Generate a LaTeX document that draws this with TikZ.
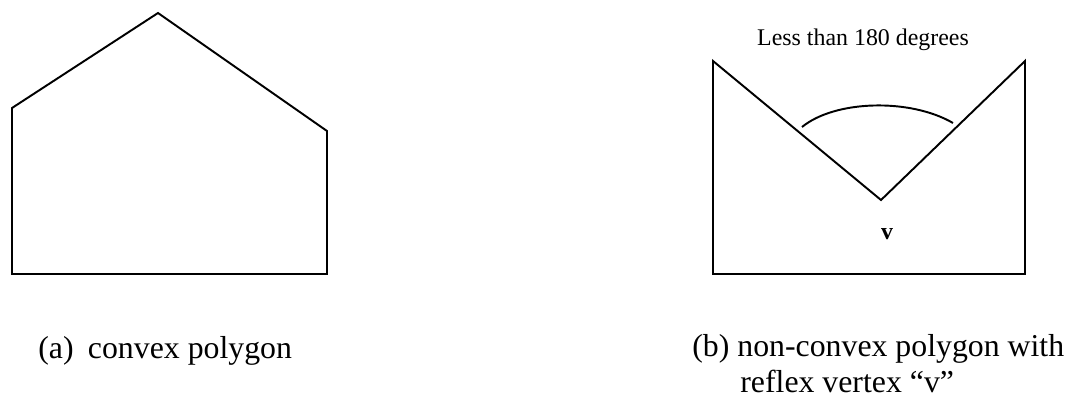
\documentclass[tikz,border=0pt]{standalone}
\usepackage{fontspec}
\setmainfont{Liberation Serif}
\begin{document}
\begin{tikzpicture}[x=0.02cm,y=-0.02cm,
  edge/.style={line width=1.1pt},
  caption/.style={font=\fontsize{18.1}{22}\selectfont,anchor=base west,inner sep=0pt},
  remark/.style={font=\fontsize{13.6}{16}\selectfont,anchor=base,inner sep=0pt}]
  % ===== Marco =====
  \useasboundingbox (0,0) rectangle (1070,399);

  % ===== (a) Polígono convexo =====
  \coordinate (a1) at (12,108);
  \coordinate (a2) at (158,13);
  \coordinate (a3) at (327,131);
  \coordinate (a4) at (327,274);
  \coordinate (a5) at (12,274);
  \draw[edge] (a1) -- (a2) -- (a3) -- (a4) -- (a5) -- cycle;

  % ===== (b) Polígono no convexo =====
  \coordinate (b1) at (713,61);
  \coordinate (v)  at (881,200);
  \coordinate (b3) at (1025,61);
  \coordinate (b4) at (1025,274);
  \coordinate (b5) at (713,274);
  \draw[edge] (b1) -- (v) -- (b3) -- (b4) -- (b5) -- cycle;

  % ===== Arco del ángulo =====
  \coordinate (arcL) at (802,127);
  \coordinate (arcR) at (953,123);
  \draw[edge] (arcL) .. controls (835,100) and (910,98) .. (arcR);

  % ===== Etiquetas =====
  \node[remark] (angle) at (863,45) {Less than 180 degrees};
  \node[remark,font=\fontsize{13.6}{16}\selectfont\bfseries] (vlabel) at (887,239) {v};
  \node[caption] (capA) at (38,358) {(a)\hspace{0.45em}convex polygon};
  \node[caption] (capB) at (692,356) {(b) non-convex polygon with};
  \node[caption] (capBb) at (740,392) {reflex vertex “v”};

\end{tikzpicture}
\end{document}
